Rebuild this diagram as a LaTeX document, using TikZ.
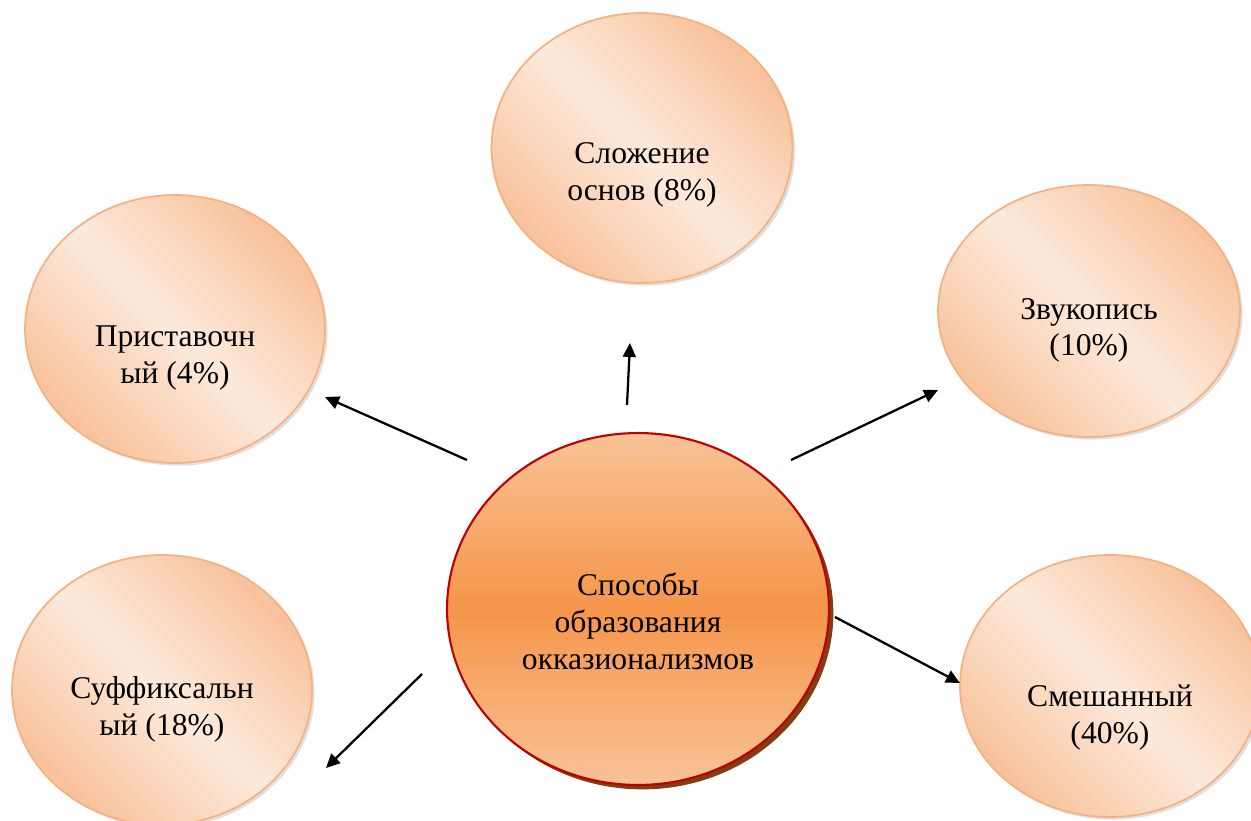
\documentclass[tikz,border=0pt]{standalone}
\usepackage{fontspec}
\setmainfont{Liberation Serif}
\usetikzlibrary{positioning,arrows.meta,shapes.geometric,shadows}

\definecolor{peachlight}{HTML}{FDEADC}
\definecolor{peachdark}{HTML}{F8C29A}
\definecolor{peachedge}{HTML}{F4B183}
\definecolor{orangemid}{HTML}{F5954A}
\definecolor{orangelight}{HTML}{F8C396}
\definecolor{rededge}{HTML}{C00000}
\definecolor{shadowbrown}{HTML}{7F3F12}

\begin{document}
\begin{tikzpicture}[
  x=0.02cm,y=-0.02cm,
  >={Triangle[length=2.8mm,width=2.6mm]},
  font=\fontsize{18}{21}\selectfont,
  onode/.style={ellipse,draw=peachedge,line width=1pt,align=center,inner sep=0pt,
                fill=peachlight,
                path picture={
                  % diagonal strips: light band from top left to bottom right
                  \foreach \i in {-15,...,14}{
                    \pgfmathsetmacro\f{min(100,100*abs(\i+0.5)/14)}
                    \pgfmathsetmacro\va{0.2*\i}
                    \pgfmathsetmacro\vb{0.2*\i+0.21}
                    \fill[peachdark!\f!peachlight]
                      ([shift={({0.7071*(\va-5)*1cm},{0.7071*(\va+5)*1cm})}]path picture bounding box.center) --
                      ([shift={({0.7071*(\va+5)*1cm},{0.7071*(\va-5)*1cm})}]path picture bounding box.center) --
                      ([shift={({0.7071*(\vb+5)*1cm},{0.7071*(\vb-5)*1cm})}]path picture bounding box.center) --
                      ([shift={({0.7071*(\vb-5)*1cm},{0.7071*(\vb+5)*1cm})}]path picture bounding box.center) -- cycle;
                  }},
                drop shadow={shadow xshift=1.5pt,shadow yshift=-1.5pt,fill=black!30,opacity=0.4}},
  cnode/.style={ellipse,draw=rededge,line width=1.2pt,align=center,inner sep=0pt,
                fill=orangelight,
                path picture={
                  \foreach \i in {-18,...,17}{
                    \pgfmathsetmacro\f{min(100,100*abs(\i+0.5)/17.5)}
                    \fill[orangelight!\f!orangemid]
                      ([shift={(-5cm,\i*0.2cm)}]path picture bounding box.center)
                      rectangle ++(10cm,0.21cm);
                  }},
                drop shadow={shadow xshift=2.5pt,shadow yshift=-2.5pt,fill=shadowbrown,opacity=1}},
  lowered/.style={text height=#1},
  link/.style={->,line width=1.3pt}]

\useasboundingbox (0,0) rectangle (1251,821);

% --- centre ---
\node[cnode,lowered=69pt,minimum width=7.64cm,minimum height=7.04cm] (sposoby) at (638,609)
  {Способы\\образования\\окказионализмов};

% --- outer ring ---
\node[onode,lowered=64pt,minimum width=6.02cm,minimum height=5.4cm] (slozh) at (642,148)
  {Сложение\\основ (8\%)};
\node[onode,lowered=66pt,minimum width=6cm,minimum height=5.36cm] (prist) at (175,329)
  {Приставочн\\ый (4\%)};
\node[onode,lowered=55pt,minimum width=6.04cm,minimum height=5.04cm] (zvuk) at (1089,311)
  {Звукопись\\(10\%)};
\node[onode,lowered=56pt,minimum width=6cm,minimum height=5.4cm] (suff) at (162,690)
  {Суффиксальн\\ый (18\%)};
\node[onode,lowered=69pt,minimum width=6cm,minimum height=5.24cm] (smesh) at (1110,686)
  {Смешанный\\(40\%)};

% free arrow ends (the arrows do not touch the ellipses)
\coordinate (t1) at (467,460); \coordinate (h1) at (325,397);
\coordinate (t2) at (627,405); \coordinate (h2) at (630,343);
\coordinate (t3) at (791,460); \coordinate (h3) at (938,390);
\coordinate (t4) at (835,617); \coordinate (h4) at (960,683);
\coordinate (t5) at (422,674); \coordinate (h5) at (326,768);

% --- arrows ---
\draw[link] (t1) -- (h1);   % to prist
\draw[link] (t2) -- (h2);   % to slozh
\draw[link] (t3) -- (h3);   % to zvuk
\draw[link] (t4) -- (h4);   % to smesh
\draw[link] (t5) -- (h5);   % to suff

\end{tikzpicture}
\end{document}
